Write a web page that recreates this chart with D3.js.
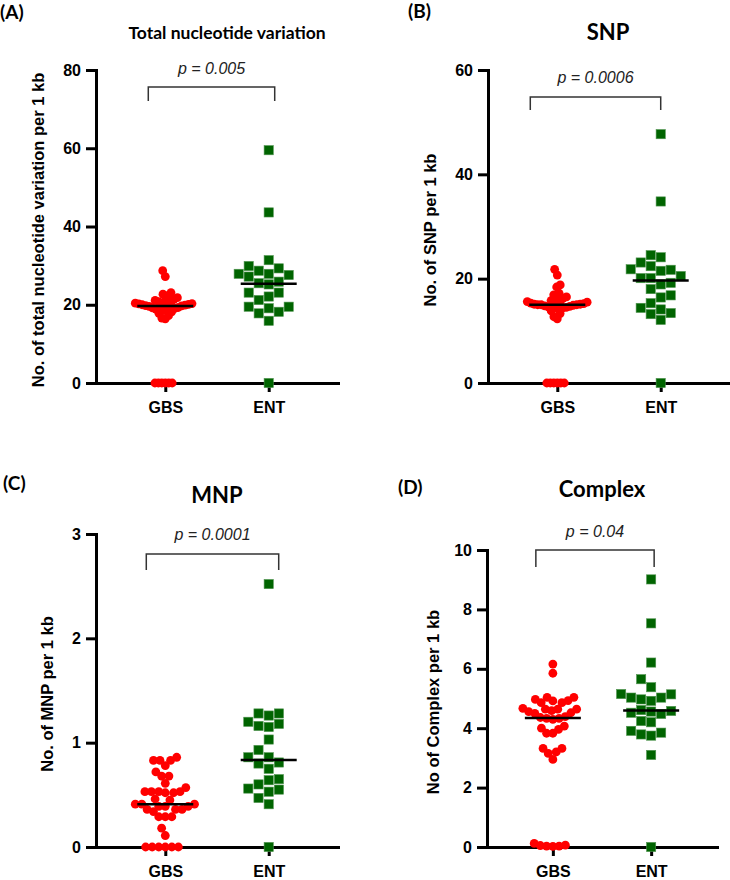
<!DOCTYPE html>
<html>
<head>
<meta charset="utf-8">
<script src="https://cdn.jsdelivr.net/npm/d3@7"></script>
<style>
  body { margin: 0; background: #fff; }
  svg { display: block; }
</style>
</head>
<body>
<div id="chart"></div>
<script>
// groups on the x axis
const groups = ["GBS", "ENT"];

// (A) total nucleotide variation per 1 kb
const totalGBS = [0, 0, 0, 0, 0, 0, 16.4, 16.6, 17.2, 17.8, 18.2, 18.6, 18.9, 19.1, 19.2, 19.3, 19.5,
  19.6, 19.6, 19.7, 19.8, 19.9, 20.0, 20.1, 20.2, 20.3, 20.4, 20.6, 20.8, 20.9, 21.1, 21.4,
  21.8, 22.3, 22.7, 23.1, 27.2, 28.7];
const totalENT = [0, 15.9, 17.8, 18.2, 19.1, 19.5, 19.5, 21.2, 22.1, 23.1, 23.1, 25.2, 25.5, 25.9,
  27.2, 27.6, 27.9, 27.9, 28.7, 29.3, 29.9, 31.4, 43.6, 59.5];
const totalTicks = [0, 20, 40, 60, 80];

// (B) SNP per 1 kb
const snpGBS = [0, 0, 0, 0, 0, 0, 12.3, 12.7, 13.3, 13.8, 14.3, 14.4, 14.5, 14.6, 14.7, 14.8, 14.9,
  14.9, 15.0, 15.0, 15.0, 15.1, 15.1, 15.2, 15.3, 15.4, 15.5, 15.6, 15.8, 16.0, 16.2, 16.5,
  16.9, 17.2, 18.4, 18.8, 20.7, 21.8];
const snpENT = [0, 12.1, 13.2, 13.4, 14.1, 14.4, 15.3, 16.4, 16.8, 18.0, 18.9, 19.2, 20.1, 20.1,
  20.5, 21.5, 21.7, 21.8, 22.4, 23.1, 24.1, 24.5, 34.8, 47.7];
const snpTicks = [0, 20, 40, 60];

// (C) MNP per 1 kb
const mnpGBS = [0, 0, 0, 0, 0, 0, 0.11, 0.18, 0.29, 0.29, 0.29, 0.34, 0.36, 0.36, 0.36, 0.39, 0.39,
  0.39, 0.41, 0.41, 0.41, 0.45, 0.46, 0.52, 0.52, 0.53, 0.53, 0.53, 0.53, 0.57, 0.61, 0.68,
  0.68, 0.72, 0.78, 0.83, 0.83, 0.83, 0.86];
const mnpENT = [0, 0.41, 0.47, 0.53, 0.55, 0.56, 0.60, 0.64, 0.65, 0.75, 0.80, 0.81, 0.86, 0.86,
  0.93, 1.03, 1.15, 1.16, 1.18, 1.20, 1.26, 1.28, 1.28, 2.52];
const mnpTicks = [0, 1, 2, 3];

// (D) complex per 1 kb
const complexGBS = [0.02, 0.03, 0.03, 0.05, 0.06, 0.12, 2.95, 3.15, 3.20, 3.32, 3.32, 3.83, 3.83,
  3.96, 4.00, 4.07, 4.30, 4.33, 4.33, 4.36, 4.39, 4.50, 4.52, 4.56, 4.59, 4.64, 4.64, 4.64,
  4.67, 4.86, 4.86, 4.92, 4.93, 4.97, 5.04, 5.04, 5.85, 6.16];
const complexENT = [0, 3.10, 3.75, 3.79, 3.85, 3.91, 4.20, 4.24, 4.48, 4.52, 4.56, 4.58, 4.61, 4.92,
  4.97, 5.03, 5.03, 5.14, 5.15, 5.38, 5.65, 6.21, 7.53, 9.01];
const complexTicks = [0, 2, 4, 6, 8, 10];

const pLabels = ["p = 0.005", "p = 0.0006", "p = 0.0001", "p = 0.04"];

const panels = [
  { letter: "(A)", lx: 0, ly: 19, title: "Total nucleotide variation", tx: 227, ty: 39, tsize: 17.5,
    x0: 96, x1: 338, yb: 383, yt: 70, ticks: totalTicks, gbs: totalGBS, ent: totalENT,
    ylab: "No. of total nucleotide variation per 1 kb", yx: 38, yy: 230,
    p: pLabels[0], py: 74, bt: 87, bb: 101, bl: -17, br: 6 },
  { letter: "(B)", lx: 408, ly: 18, title: "SNP", tx: 608, ty: 40, tsize: 22,
    x0: 488, x1: 730, yb: 383, yt: 70, ticks: snpTicks, gbs: snpGBS, ent: snpENT,
    ylab: "No. of SNP per 1 kb", yx: 430, yy: 230,
    p: pLabels[1], py: 83, bt: 97, bb: 110, bl: -27, br: 0 },
  { letter: "(C)", lx: 3, ly: 490, title: "MNP", tx: 217, ty: 503, tsize: 22,
    x0: 96, x1: 338, yb: 847, yt: 534, ticks: mnpTicks, gbs: mnpGBS, ent: mnpENT,
    ylab: "No. of MNP per 1 kb", yx: 47, yy: 694,
    p: pLabels[2], py: 540, bt: 554, bb: 570, bl: -19, br: 10 },
  { letter: "(D)", lx: 398, ly: 494, title: "Complex", tx: 602, ty: 497, tsize: 22,
    x0: 487, x1: 717, yb: 847, yt: 550, ticks: complexTicks, gbs: complexGBS, ent: complexENT,
    ylab: "No of Complex per 1 kb", yx: 433, yy: 702,
    p: pLabels[3], py: 537, bt: 550, bb: 567, bl: -17, br: 3 }
];

const axisFont = "Arial, 'Liberation Sans', sans-serif";
const titleFont = "Lato, 'Open Sans', sans-serif";
const red = "#ff0000", green = "#006400";
const rCircle = 4.4, sq = 9.2;

const svg = d3.select("#chart").append("svg")
  .attr("width", 730).attr("height", 880)
  .style("background", "#fff");

// simple beeswarm: place each point as close to the centre as possible
function swarm(values, y, d, shape, maxHalf) {
  const pts = values.map(v => ({ v: v, y: y(v), x: 0 }));
  const order = pts.slice().sort((a, b) => b.y - a.y);
  const placed = [];
  const free = (x, p, near) => near.every(q => {
    const dx = Math.abs(q.x - x), dy = Math.abs(q.y - p.y);
    if (shape === "circle") return dx * dx + dy * dy >= d * d - 1e-6;
    return dx >= d - 1e-6 || dy >= d - 1e-6;
  });
  for (const p of order) {
    const near = placed.filter(q => Math.abs(q.y - p.y) < d);
    const cands = [0];
    near.forEach(q => {
      const dy = Math.abs(q.y - p.y);
      const dx = shape === "circle" ? Math.sqrt(d * d - dy * dy) : d;
      cands.push(q.x + dx, q.x - dx);
    });
    cands.sort((a, b) => Math.abs(a) - Math.abs(b) || a - b);
    for (const c of cands) {
      if (free(c, p, near)) { p.x = c; break; }
    }
    placed.push(p);
  }
  const m = d3.max(pts, p => Math.abs(p.x));
  const k = m > maxHalf ? maxHalf / m : 1;
  pts.forEach(p => { p.x *= k; });
  return pts;
}

panels.forEach(P => {
  const g = svg.append("g");

  const x = d3.scalePoint().domain(groups).range([P.x0, P.x1]).padding(0.67);
  const y = d3.scaleLinear().domain([d3.min(P.ticks), d3.max(P.ticks)]).range([P.yb, P.yt]);

  // panel letter and title
  g.append("text").attr("x", P.lx).attr("y", P.ly)
    .style("font-family", titleFont).style("font-weight", "bold").style("font-size", "19px")
    .text(P.letter);
  g.append("text").attr("x", P.tx).attr("y", P.ty).attr("text-anchor", "middle")
    .style("font-family", titleFont).style("font-weight", "bold").style("font-size", P.tsize + "px")
    .text(P.title);

  // y axis
  const ya = g.append("g").attr("transform", "translate(" + P.x0 + ",0)")
    .call(d3.axisLeft(y).tickValues(P.ticks).tickFormat(d3.format("~g"))
      .tickSize(10).tickSizeOuter(0).tickPadding(5));
  // x axis
  const xa = g.append("g").attr("transform", "translate(0," + P.yb + ")")
    .call(d3.axisBottom(x).tickSize(9).tickSizeOuter(0).tickPadding(6));

  [ya, xa].forEach(a => {
    a.attr("font-family", null).attr("font-size", null);
    a.select(".domain").attr("stroke", "#000").attr("stroke-width", 3).attr("stroke-linecap", "square");
    a.selectAll(".tick line").attr("stroke", "#000").attr("stroke-width", 3);
    a.selectAll(".tick text").attr("fill", "#000")
      .style("font-family", axisFont).style("font-weight", "bold").style("font-size", "16px");
  });
  xa.selectAll(".tick text").attr("dy", "0.95em");

  // y axis label
  g.append("text")
    .attr("transform", "translate(" + P.yx + "," + P.yy + ") rotate(-90)")
    .attr("text-anchor", "middle").attr("dominant-baseline", "central")
    .style("font-family", axisFont).style("font-weight", "bold").style("font-size", "16.5px")
    .text(P.ylab);

  // points
  const gbsPts = swarm(P.gbs, y, rCircle * 2, "circle", 30);
  const entPts = swarm(P.ent, y, sq + 1, "square", 30);

  g.append("g").selectAll("circle").data(gbsPts).enter().append("circle")
    .attr("cx", d => x("GBS") + d.x).attr("cy", d => d.y).attr("r", rCircle)
    .attr("fill", red);

  g.append("g").selectAll("rect").data(entPts).enter().append("rect")
    .attr("x", d => x("ENT") + d.x - sq / 2).attr("y", d => d.y - sq / 2)
    .attr("width", sq).attr("height", sq)
    .attr("fill", green).attr("stroke", "#4f944f").attr("stroke-width", 0.6);

  // medians
  [["GBS", P.gbs], ["ENT", P.ent]].forEach(([k, vals]) => {
    const m = d3.median(vals);
    g.append("line")
      .attr("x1", x(k) - 28).attr("x2", x(k) + 28)
      .attr("y1", y(m)).attr("y2", y(m))
      .attr("stroke", "#000").attr("stroke-width", 2.5);
  });

  // significance bracket
  const bx1 = x("GBS") + P.bl, bx2 = x("ENT") + P.br;
  g.append("path")
    .attr("d", "M" + bx1 + "," + P.bb + "V" + P.bt + "H" + bx2 + "V" + P.bb)
    .attr("fill", "none").attr("stroke", "#333").attr("stroke-width", 1.5);
  g.append("text").attr("x", (bx1 + bx2) / 2).attr("y", P.py).attr("text-anchor", "middle")
    .style("font-family", axisFont).style("font-style", "italic").style("font-size", "16px")
    .attr("fill", "#222")
    .text(P.p);
});
</script>
</body>
</html>
